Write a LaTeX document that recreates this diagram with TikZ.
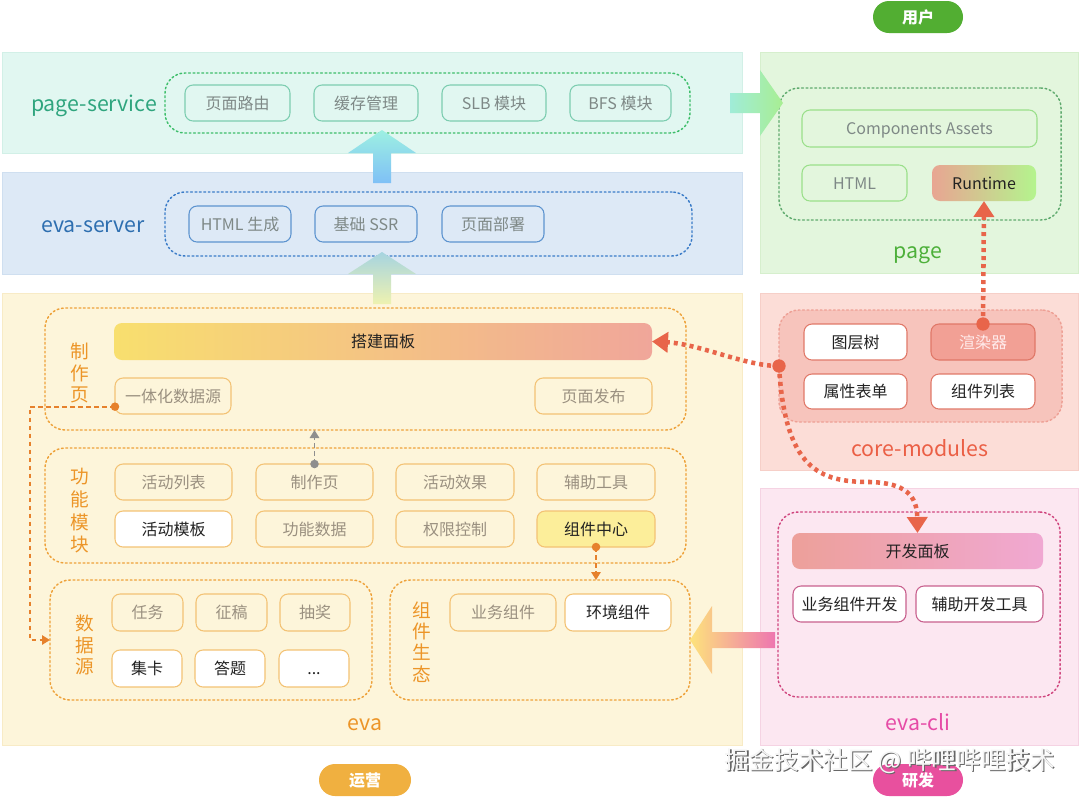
\documentclass[tikz,border=0pt]{standalone}
\usepackage{fontspec}
\setmainfont{Noto Sans CJK SC}
\usetikzlibrary{arrows.meta}
\definecolor{psfill}{HTML}{E1F7F1}
\definecolor{psline}{HTML}{D2F0E7}
\definecolor{pslab}{HTML}{2FA57E}
\definecolor{psdot}{HTML}{3DBE6A}
\definecolor{psbox}{HTML}{7CCDB0}
\definecolor{gtxt}{HTML}{7E8886}
\definecolor{esfill}{HTML}{DDE9F6}
\definecolor{esline}{HTML}{CFDFF0}
\definecolor{eslab}{HTML}{2E6FB0}
\definecolor{esdot}{HTML}{3B7CC8}
\definecolor{esbox}{HTML}{5C93CF}
\definecolor{pgfill}{HTML}{E3F6DD}
\definecolor{pgline}{HTML}{D6EFCD}
\definecolor{pgdot}{HTML}{5FAA6E}
\definecolor{pgbox}{HTML}{9ADF8A}
\definecolor{pglab}{HTML}{4DB03A}
\definecolor{cmfill}{HTML}{FCDDD7}
\definecolor{cmline}{HTML}{F6CFC8}
\definecolor{cminner}{HTML}{F7C4BC}
\definecolor{cmdot}{HTML}{EEA095}
\definecolor{cmbox}{HTML}{E07868}
\definecolor{cmlab}{HTML}{EB5F45}
\definecolor{xrfill}{HTML}{F2A095}
\definecolor{clfill}{HTML}{FCE7F1}
\definecolor{clline}{HTML}{F5D3E3}
\definecolor{cldot}{HTML}{D0457E}
\definecolor{clbox}{HTML}{C8608E}
\definecolor{cllab}{HTML}{E64BA6}
\definecolor{evfill}{HTML}{FDF5DA}
\definecolor{evline}{HTML}{F8EBC6}
\definecolor{evdot}{HTML}{EEA23A}
\definecolor{evbox}{HTML}{F3C274}
\definecolor{evlab}{HTML}{EC9528}
\definecolor{evtxt}{HTML}{9A9080}
\definecolor{zjfill}{HTML}{FCEE9A}
\definecolor{redc}{HTML}{E8654A}
\definecolor{orgc}{HTML}{E6812C}
\definecolor{grayc}{HTML}{8E8E8E}
\definecolor{dtxt}{HTML}{222222}
\definecolor{rtL}{HTML}{E8A592}
\definecolor{rtR}{HTML}{B4F48E}
\definecolor{kfL}{HTML}{EDA09A}
\definecolor{kfR}{HTML}{F0A8D2}
\definecolor{djL}{HTML}{F8DF6E}
\definecolor{djR}{HTML}{F0A69A}
\definecolor{a1L}{HTML}{A0ECD8}
\definecolor{a1R}{HTML}{A8EE92}
\definecolor{a2B}{HTML}{7FC0F6}
\definecolor{a2T}{HTML}{9DF0E2}
\definecolor{a3B}{HTML}{EEF2B0}
\definecolor{a3T}{HTML}{A6D4E0}
\definecolor{a4L}{HTML}{FDE37C}
\definecolor{a4R}{HTML}{EE76B0}
\definecolor{yhc}{HTML}{52AE32}
\definecolor{yyc}{HTML}{F0B040}
\definecolor{yfc}{HTML}{E8509E}
% \bx{name}{x1}{y1}{x2}{y2}{style}{text}, corners in pixels
\newcommand\bx[7]{\node[#6, minimum width={(#4-#2)*0.75pt}, minimum height={(#5-#3)*0.75pt}] (#1) at ({(#2+#4)/2},{(#3+#5)/2}) {#7};}
\begin{document}
\begin{tikzpicture}[x=0.75pt,y=-0.75pt,
  every node/.style={inner sep=0pt, outer sep=0pt},
  ctr/.style={text height=9.1pt, text depth=0pt},
  panel/.style={line width=0.75pt},
  grp/.style={rounded corners=15pt, line width=1.1pt, dash pattern=on 1.3pt off 2pt, line cap=round},
  bxs/.style={draw, rounded corners=6pt, line width=0.8pt, font=\fontsize{12}{14}\selectfont, ctr},
  lab/.style={font=\fontsize{16}{19}\selectfont, text height=12pt, text depth=0pt},
  vlab/.style={align=center, text=evlab},
  pill/.style={rounded corners=12pt, font=\bfseries\fontsize{12}{14}\selectfont, text=white, ctr},
  rdot/.style={redc, line width=3.4pt, dash pattern=on 3pt off 3pt, -{Triangle[width=15pt,length=12pt]}},
  odash/.style={orgc, line width=1.4pt, dash pattern=on 3.5pt off 2.5pt, -{Triangle[width=7pt,length=6pt]}},
  gdash/.style={grayc, line width=1.4pt, dash pattern=on 3.5pt off 2.5pt, -{Triangle[width=7pt,length=6pt]}}]
\useasboundingbox (0,0) rectangle (1080,797);
\fill[white] (0,0) rectangle (1080,797);

% panels
\bx{ps}{2}{52}{742}{153}{panel, fill=psfill, draw=psline}{}
\bx{es}{2}{172}{742}{274}{panel, fill=esfill, draw=esline}{}
\bx{pg}{760}{52}{1078}{273}{panel, fill=pgfill, draw=pgline}{}
\bx{cm}{760}{293}{1078}{470}{panel, fill=cmfill, draw=cmline}{}
\bx{cl}{760}{488}{1078}{745}{panel, fill=clfill, draw=clline}{}
\bx{ev}{2}{293}{742}{745}{panel, fill=evfill, draw=evline}{}

% panel labels
\node[lab, text=pslab] (psl) at (94,103) {page-service};
\node[lab, text=eslab] (esl) at (93,224) {eva-server};
\node[lab, text=pglab] (pgl) at (918,250) {page};
\node[lab, text=cmlab] (cml) at (920,448) {core-modules};
\node[lab, text=cllab] (cll) at (918,722) {eva-cli};
\node[lab, text=evlab] (evl) at (365,722) {eva};

% groups
\bx{psg}{165}{73}{690}{133}{grp, draw=psdot}{}
\bx{esg}{165}{192}{692}{256}{grp, draw=esdot}{}
\bx{pgg}{779}{88}{1061}{220}{grp, draw=pgdot}{}
\bx{cmg}{779}{310}{1062}{422}{grp, draw=cmdot, fill=cminner}{}
\bx{clg}{778}{512}{1060}{697}{grp, draw=cldot}{}
\bx{zzy}{45}{308}{686}{430}{grp, draw=evdot}{}
\bx{gnmk}{45}{448}{686}{563}{grp, draw=evdot}{}
\bx{sjy}{50}{580}{372}{700}{grp, draw=evdot}{}
\bx{zjst}{390}{580}{690}{700}{grp, draw=evdot}{}

% page-service boxes
\bx{lyb}{185}{85}{290}{121}{bxs, draw=psbox, text=gtxt}{页面路由}
\bx{hcgl}{314}{85}{418}{121}{bxs, draw=psbox, text=gtxt}{缓存管理}
\bx{slb}{442}{85}{546}{121}{bxs, draw=psbox, text=gtxt}{SLB 模块}
\bx{bfs}{570}{85}{671}{121}{bxs, draw=psbox, text=gtxt}{BFS 模块}
% eva-server boxes
\bx{htmlsc}{189}{206}{291}{242}{bxs, draw=esbox, text=gtxt}{HTML 生成}
\bx{ssr}{315}{206}{417}{242}{bxs, draw=esbox, text=gtxt}{基础 SSR}
\bx{ymbs}{442}{206}{544}{242}{bxs, draw=esbox, text=gtxt}{页面部署}
% page boxes
\bx{ca}{802}{110}{1037}{147}{bxs, draw=pgbox, text=gtxt}{Components Assets}
\bx{phtml}{802}{165}{907}{201}{bxs, draw=pgbox, text=gtxt}{HTML}
\bx{rt}{932}{165}{1036}{201}{bxs, draw=none, left color=rtL, right color=rtR, text=dtxt}{Runtime}
% core boxes
\bx{tcs}{804}{324}{907}{360}{bxs, draw=cmbox, fill=white, text=dtxt}{图层树}
\bx{xr}{931}{324}{1035}{360}{bxs, draw=cmbox, fill=xrfill, text=white!92!red}{渲染器}
\bx{sxbd}{804}{374}{907}{409}{bxs, draw=cmbox, fill=white, text=dtxt}{属性表单}
\bx{zjlb}{931}{374}{1035}{409}{bxs, draw=cmbox, fill=white, text=dtxt}{组件列表}
% cli boxes
\bx{kfmb}{792}{533}{1043}{569}{bxs, draw=none, left color=kfL, right color=kfR, text=dtxt}{开发面板}
\bx{ywkf}{793}{586}{906}{622}{bxs, draw=clbox, fill=white, text=dtxt}{业务组件开发}
\bx{fzkf}{916}{586}{1043}{622}{bxs, draw=clbox, fill=white, text=dtxt}{辅助开发工具}
% eva boxes
\bx{djmb}{114}{323}{652}{360}{bxs, draw=none, left color=djL, right color=djR, text=dtxt}{搭建面板}
\bx{ytsj}{115}{378}{231}{414}{bxs, draw=evbox, text=evtxt}{一体化数据源}
\bx{ymfb}{535}{378}{652}{414}{bxs, draw=evbox, text=evtxt}{页面发布}
\bx{hdlb}{115}{464}{232}{500}{bxs, draw=evbox, text=evtxt}{活动列表}
\bx{zzyb}{256}{464}{373}{500}{bxs, draw=evbox, text=evtxt}{制作页}
\bx{hdxg}{396}{464}{514}{500}{bxs, draw=evbox, text=evtxt}{活动效果}
\bx{fzgj}{537}{464}{655}{500}{bxs, draw=evbox, text=evtxt}{辅助工具}
\bx{hdmb}{115}{511}{232}{547}{bxs, draw=evbox, fill=white, text=dtxt}{活动模板}
\bx{gnsj}{256}{511}{373}{547}{bxs, draw=evbox, text=evtxt}{功能数据}
\bx{qxkz}{396}{511}{514}{547}{bxs, draw=evbox, text=evtxt}{权限控制}
\bx{zjzx}{537}{511}{655}{547}{bxs, draw=evbox, fill=zjfill, text=dtxt}{组件中心}
\bx{rw}{112}{594}{183}{631}{bxs, draw=evbox, text=evtxt}{任务}
\bx{zg}{196}{594}{267}{631}{bxs, draw=evbox, text=evtxt}{征稿}
\bx{cj}{280}{594}{350}{631}{bxs, draw=evbox, text=evtxt}{抽奖}
\bx{jk}{112}{650}{182}{687}{bxs, draw=evbox, fill=white, text=dtxt}{集卡}
\bx{dt}{195}{650}{265}{687}{bxs, draw=evbox, fill=white, text=dtxt}{答题}
\bx{etc}{279}{650}{349}{687}{bxs, draw=evbox, fill=white, text=dtxt}{...}
\bx{ywzj}{450}{594}{556}{631}{bxs, draw=evbox, text=evtxt}{业务组件}
\bx{hjzj}{565}{594}{671}{631}{bxs, draw=evbox, fill=white, text=dtxt}{环境组件}

% vertical labels
\node[vlab, font=\fontsize{14}{16}\selectfont] (l1) at (80,373) {制\\作\\页};
\node[vlab, font=\fontsize{14}{17}\selectfont] (l2) at (80,511) {功\\能\\模\\块};
\node[vlab, font=\fontsize{14}{16}\selectfont] (l3) at (85,645) {数\\据\\源};
\node[vlab, font=\fontsize{14}{16}\selectfont] (l4) at (422,642) {组\\件\\生\\态};

% block arrows
\shade[left color=a1L, right color=a1R]
  (730,93) -- (760,93) -- (760,70) -- (783,103) -- (760,136) -- (760,113) -- (730,113) -- cycle;
\shade[bottom color=a2B, top color=a2T]
  (373,183) -- (373,153) -- (348,153) -- (382,130) -- (416,153) -- (391,153) -- (391,183) -- cycle;
\shade[bottom color=a3B, top color=a3T]
  (373,304) -- (373,274) -- (348,274) -- (382,252) -- (416,274) -- (391,274) -- (391,304) -- cycle;
\shade[left color=a4L, right color=a4R]
  (775,632) -- (712,632) -- (712,606) -- (690,640) -- (712,674) -- (712,648) -- (775,648) -- cycle;

% connectors
\draw[rdot] (xr.north) -- (rt.south);
\fill[redc] (xr.north) circle (5pt);
\draw[rdot] (cmg.west) .. controls (745,366) and (700,344) .. (djmb.east);
\draw[rdot] (cmg.west) .. controls (785,470) and (820,482) .. (870,482) .. controls (905,483) and (917,495) .. (kfmb.north);
\fill[redc] (cmg.west) circle (5pt);

\coordinate (ytA) at ([yshift=-8pt]ytsj.west);
\draw[odash] (ytA) -| ([xshift=-15pt]sjy.west) -- (sjy.west);
\fill[orgc] (ytA) circle (3.2pt);
\draw[odash] (zjzx.south) -- (zjzx.south |- zjst.north);
\fill[orgc] (zjzx.south) circle (3.2pt);
\draw[gdash] (zzyb.north) -- (zzyb.north |- zzy.south);
\fill[grayc] (zzyb.north) circle (3.2pt);

% pills
\bx{yh}{873}{1}{963}{33}{pill, fill=yhc}{用户}
\bx{yy}{319}{764}{411}{796}{pill, fill=yyc}{运营}
\bx{yf}{873}{764}{963}{796}{pill, fill=yfc}{研发}

% watermark
\node[text=black!60, font=\fontsize{18.5}{22}\selectfont, text height=14pt, text depth=0pt] (wms) at (891.2,761.2) {掘金技术社区 @ 哔哩哔哩技术};
\node[text=white!96!black, font=\fontsize{18.5}{22}\selectfont, text height=14pt, text depth=0pt] (wm) at (890,760) {掘金技术社区 @ 哔哩哔哩技术};
\end{tikzpicture}
\end{document}
